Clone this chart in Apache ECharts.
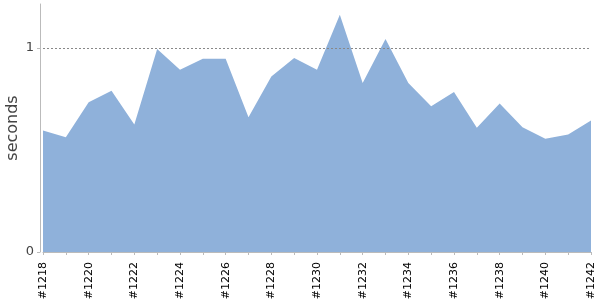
<!DOCTYPE html>
<html><head><meta charset="utf-8">
<script src="https://cdn.jsdelivr.net/npm/echarts@6/dist/echarts.min.js"></script>
<style>html,body{margin:0;padding:0;background:#fff}#c{width:600px;height:300px}</style>
</head><body><div id="c"></div>
<script>
var categories = ['#1218','#1219','#1220','#1221','#1222','#1223','#1224','#1225','#1226','#1227','#1228','#1229','#1230','#1231','#1232','#1233','#1234','#1235','#1236','#1237','#1238','#1239','#1240','#1241','#1242'];
var seconds = [0.596,0.563,0.734,0.791,0.625,0.995,0.894,0.948,0.948,0.661,0.861,0.951,0.894,1.163,0.829,1.044,0.829,0.715,0.785,0.609,0.728,0.612,0.555,0.576,0.645];
var yTicks = [0, 1];
var refLine = 1;
var chart = echarts.init(document.getElementById('c'), null, {renderer:'canvas'});
chart.setOption({
  animation:false,
  grid:{left:43,right:9,top:4,bottom:48,containLabel:false,outerBoundsMode:'none'},
  xAxis:{type:'category',data:categories,boundaryGap:false,offset:5,
    axisLine:{lineStyle:{color:'#bbbbbb'}},
    axisTick:{length:3,lineStyle:{color:'#bbbbbb'},interval:0},
    axisLabel:{rotate:90,interval:1,color:'#000',fontFamily:'DejaVu Sans',fontSize:11,margin:5},
    splitLine:{show:false}},
  yAxis:{type:'value',min:0,max:1.216,offset:3,
    name:'seconds',nameLocation:'middle',nameGap:19,nameRotate:90,nameMoveOverlap:false,
    nameTextStyle:{color:'#444',fontFamily:'DejaVu Sans',fontSize:16},
    axisLine:{show:true,lineStyle:{color:'#bbbbbb'}},
    axisTick:{show:true,length:3,lineStyle:{color:'#bbbbbb'},customValues:yTicks},
    axisLabel:{color:'#444',fontFamily:'DejaVu Sans',fontSize:13,margin:6,customValues:yTicks},
    splitLine:{show:false}},
  series:[{type:'line',data:seconds,symbol:'none',
    lineStyle:{width:0,color:'#8fb1da'},
    areaStyle:{color:'#8fb1da',opacity:1},
    markLine:{silent:true,symbol:'none',label:{show:false},
      lineStyle:{color:'#888',type:[2,2],width:1},
      data:[{yAxis:refLine}]}}]
});
</script></body></html>
